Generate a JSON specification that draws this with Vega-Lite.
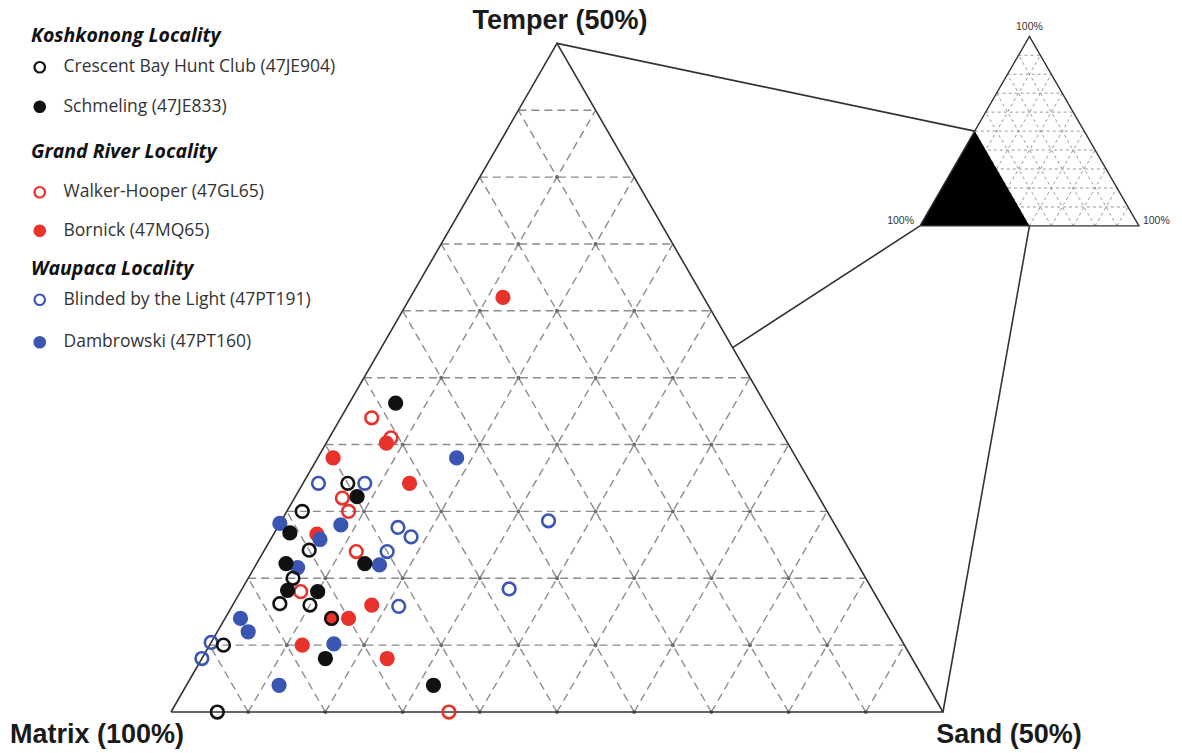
{
  "$schema": "https://vega.github.io/schema/vega-lite/v6.json",
  "width": 1182,
  "height": 753,
  "padding": 0,
  "autosize": {"type": "none"},
  "background": "white",
  "config": {"view": {"stroke": null}, "font": "Liberation Sans"},
  "datasets": {
    "points": [
      {"locality": "K", "site": "Crescent Bay Hunt Club (47JE904)", "temper": 0, "sand": 3, "matrix": 97},
      {"locality": "K", "site": "Crescent Bay Hunt Club (47JE904)", "temper": 5, "sand": 0.9, "matrix": 94.1},
      {"locality": "K", "site": "Crescent Bay Hunt Club (47JE904)", "temper": 8.1, "sand": 3, "matrix": 88.9},
      {"locality": "K", "site": "Crescent Bay Hunt Club (47JE904)", "temper": 8, "sand": 5, "matrix": 87},
      {"locality": "K", "site": "Crescent Bay Hunt Club (47JE904)", "temper": 10, "sand": 2.9, "matrix": 87.1},
      {"locality": "K", "site": "Crescent Bay Hunt Club (47JE904)", "temper": 12.1, "sand": 2.9, "matrix": 85},
      {"locality": "K", "site": "Crescent Bay Hunt Club (47JE904)", "temper": 15, "sand": 1, "matrix": 84},
      {"locality": "K", "site": "Crescent Bay Hunt Club (47JE904)", "temper": 17.1, "sand": 2.9, "matrix": 80},
      {"locality": "K", "site": "Crescent Bay Hunt Club (47JE904)", "temper": 7, "sand": 6.9, "matrix": 86.1},
      {"locality": "K", "site": "Schmeling (47JE833)", "temper": 23.1, "sand": 3, "matrix": 73.9},
      {"locality": "K", "site": "Schmeling (47JE833)", "temper": 16.1, "sand": 4, "matrix": 79.9},
      {"locality": "K", "site": "Schmeling (47JE833)", "temper": 13.4, "sand": 1, "matrix": 85.6},
      {"locality": "K", "site": "Schmeling (47JE833)", "temper": 11.1, "sand": 1.9, "matrix": 87},
      {"locality": "K", "site": "Schmeling (47JE833)", "temper": 9.1, "sand": 3, "matrix": 87.9},
      {"locality": "K", "site": "Schmeling (47JE833)", "temper": 9, "sand": 5, "matrix": 86},
      {"locality": "K", "site": "Schmeling (47JE833)", "temper": 11.1, "sand": 7, "matrix": 81.9},
      {"locality": "K", "site": "Schmeling (47JE833)", "temper": 4, "sand": 8, "matrix": 88},
      {"locality": "K", "site": "Schmeling (47JE833)", "temper": 2, "sand": 16, "matrix": 82},
      {"locality": "G", "site": "Walker-Hooper (47GL65)", "temper": 22, "sand": 2, "matrix": 76},
      {"locality": "G", "site": "Walker-Hooper (47GL65)", "temper": 20.5, "sand": 4, "matrix": 75.5},
      {"locality": "G", "site": "Walker-Hooper (47GL65)", "temper": 16, "sand": 3.1, "matrix": 80.9},
      {"locality": "G", "site": "Walker-Hooper (47GL65)", "temper": 15, "sand": 4, "matrix": 81},
      {"locality": "G", "site": "Walker-Hooper (47GL65)", "temper": 12, "sand": 6, "matrix": 82},
      {"locality": "G", "site": "Walker-Hooper (47GL65)", "temper": 9, "sand": 3.9, "matrix": 87.1},
      {"locality": "G", "site": "Walker-Hooper (47GL65)", "temper": 0, "sand": 18, "matrix": 82},
      {"locality": "G", "site": "Bornick (47MQ65)", "temper": 31, "sand": 6, "matrix": 63},
      {"locality": "G", "site": "Bornick (47MQ65)", "temper": 20.1, "sand": 3.9, "matrix": 76},
      {"locality": "G", "site": "Bornick (47MQ65)", "temper": 19, "sand": 1, "matrix": 80},
      {"locality": "G", "site": "Bornick (47MQ65)", "temper": 17.1, "sand": 6.9, "matrix": 76},
      {"locality": "G", "site": "Bornick (47MQ65)", "temper": 13.3, "sand": 2.8, "matrix": 83.9},
      {"locality": "G", "site": "Bornick (47MQ65)", "temper": 7, "sand": 8, "matrix": 85},
      {"locality": "G", "site": "Bornick (47MQ65)", "temper": 8, "sand": 9, "matrix": 83},
      {"locality": "G", "site": "Bornick (47MQ65)", "temper": 5, "sand": 6, "matrix": 89},
      {"locality": "G", "site": "Bornick (47MQ65)", "temper": 4, "sand": 12, "matrix": 84},
      {"locality": "G", "site": "Bornick (47MQ65)", "temper": 7, "sand": 6.9, "matrix": 86.1},
      {"locality": "W", "site": "Blinded by the Light (47PT191)", "temper": 17.1, "sand": 1, "matrix": 81.9},
      {"locality": "W", "site": "Blinded by the Light (47PT191)", "temper": 17.1, "sand": 4, "matrix": 78.9},
      {"locality": "W", "site": "Blinded by the Light (47PT191)", "temper": 13.8, "sand": 7.8, "matrix": 78.4},
      {"locality": "W", "site": "Blinded by the Light (47PT191)", "temper": 13.1, "sand": 9, "matrix": 77.9},
      {"locality": "W", "site": "Blinded by the Light (47PT191)", "temper": 12, "sand": 8, "matrix": 80},
      {"locality": "W", "site": "Blinded by the Light (47PT191)", "temper": 7.9, "sand": 10.8, "matrix": 81.3},
      {"locality": "W", "site": "Blinded by the Light (47PT191)", "temper": 14.3, "sand": 17.3, "matrix": 68.4},
      {"locality": "W", "site": "Blinded by the Light (47PT191)", "temper": 9.2, "sand": 17.3, "matrix": 73.5},
      {"locality": "W", "site": "Blinded by the Light (47PT191)", "temper": 5.2, "sand": 0, "matrix": 94.8},
      {"locality": "W", "site": "Blinded by the Light (47PT191)", "temper": 4, "sand": 0, "matrix": 96},
      {"locality": "W", "site": "Dambrowski (47PT160)", "temper": 19, "sand": 9, "matrix": 72},
      {"locality": "W", "site": "Dambrowski (47PT160)", "temper": 14.1, "sand": 0, "matrix": 85.9},
      {"locality": "W", "site": "Dambrowski (47PT160)", "temper": 12.9, "sand": 3.2, "matrix": 83.9},
      {"locality": "W", "site": "Dambrowski (47PT160)", "temper": 14, "sand": 4, "matrix": 82},
      {"locality": "W", "site": "Dambrowski (47PT160)", "temper": 10.8, "sand": 2.8, "matrix": 86.4},
      {"locality": "W", "site": "Dambrowski (47PT160)", "temper": 11, "sand": 8, "matrix": 81},
      {"locality": "W", "site": "Dambrowski (47PT160)", "temper": 7, "sand": 1, "matrix": 92},
      {"locality": "W", "site": "Dambrowski (47PT160)", "temper": 6, "sand": 2, "matrix": 92},
      {"locality": "W", "site": "Dambrowski (47PT160)", "temper": 2, "sand": 6, "matrix": 92},
      {"locality": "W", "site": "Dambrowski (47PT160)", "temper": 5.1, "sand": 8, "matrix": 86.9}
    ],
    "grid": [
      {"t1": 5, "s1": 0, "t2": 5, "s2": 45}, {"t1": 10, "s1": 0, "t2": 10, "s2": 40}, {"t1": 15, "s1": 0, "t2": 15, "s2": 35},
      {"t1": 20, "s1": 0, "t2": 20, "s2": 30}, {"t1": 25, "s1": 0, "t2": 25, "s2": 25}, {"t1": 30, "s1": 0, "t2": 30, "s2": 20},
      {"t1": 35, "s1": 0, "t2": 35, "s2": 15}, {"t1": 40, "s1": 0, "t2": 40, "s2": 10}, {"t1": 45, "s1": 0, "t2": 45, "s2": 5},
      {"t1": 0, "s1": 5, "t2": 45, "s2": 5}, {"t1": 0, "s1": 10, "t2": 40, "s2": 10}, {"t1": 0, "s1": 15, "t2": 35, "s2": 15},
      {"t1": 0, "s1": 20, "t2": 30, "s2": 20}, {"t1": 0, "s1": 25, "t2": 25, "s2": 25}, {"t1": 0, "s1": 30, "t2": 20, "s2": 30},
      {"t1": 0, "s1": 35, "t2": 15, "s2": 35}, {"t1": 0, "s1": 40, "t2": 10, "s2": 40}, {"t1": 0, "s1": 45, "t2": 5, "s2": 45},
      {"t1": 0, "s1": 5, "t2": 5, "s2": 0}, {"t1": 0, "s1": 10, "t2": 10, "s2": 0}, {"t1": 0, "s1": 15, "t2": 15, "s2": 0},
      {"t1": 0, "s1": 20, "t2": 20, "s2": 0}, {"t1": 0, "s1": 25, "t2": 25, "s2": 0}, {"t1": 0, "s1": 30, "t2": 30, "s2": 0},
      {"t1": 0, "s1": 35, "t2": 35, "s2": 0}, {"t1": 0, "s1": 40, "t2": 40, "s2": 0}, {"t1": 0, "s1": 45, "t2": 45, "s2": 0}
    ],
    "nodes": [
      {"t": 0, "s": 5}, {"t": 0, "s": 10}, {"t": 0, "s": 15}, {"t": 0, "s": 20}, {"t": 0, "s": 25}, {"t": 0, "s": 30}, {"t": 0, "s": 35}, {"t": 0, "s": 40}, {"t": 0, "s": 45},
      {"t": 5, "s": 5}, {"t": 5, "s": 10}, {"t": 5, "s": 15}, {"t": 5, "s": 20}, {"t": 5, "s": 25}, {"t": 5, "s": 30}, {"t": 5, "s": 35}, {"t": 5, "s": 40},
      {"t": 10, "s": 5}, {"t": 10, "s": 10}, {"t": 10, "s": 15}, {"t": 10, "s": 20}, {"t": 10, "s": 25}, {"t": 10, "s": 30}, {"t": 10, "s": 35},
      {"t": 15, "s": 5}, {"t": 15, "s": 10}, {"t": 15, "s": 15}, {"t": 15, "s": 20}, {"t": 15, "s": 25}, {"t": 15, "s": 30},
      {"t": 20, "s": 5}, {"t": 20, "s": 10}, {"t": 20, "s": 15}, {"t": 20, "s": 20}, {"t": 20, "s": 25},
      {"t": 25, "s": 5}, {"t": 25, "s": 10}, {"t": 25, "s": 15}, {"t": 25, "s": 20},
      {"t": 30, "s": 5}, {"t": 30, "s": 10}, {"t": 30, "s": 15},
      {"t": 35, "s": 5}, {"t": 35, "s": 10},
      {"t": 40, "s": 5}
    ],
    "tri": [
      {"t": 0, "s": 0, "k": 0}, {"t": 0, "s": 50, "k": 1}, {"t": 50, "s": 0, "k": 2}, {"t": 0, "s": 0, "k": 3}
    ],
    "itri": [
      {"t": 0, "s": 0, "k": 0}, {"t": 0, "s": 100, "k": 1}, {"t": 100, "s": 0, "k": 2}, {"t": 0, "s": 0, "k": 3}
    ],
    "iblack": [
      {"t": 0, "s": 0}, {"t": 50, "s": 0}, {"t": 0, "s": 50}
    ],
    "igrid": [
      {"t1": 10, "s1": 0, "t2": 10, "s2": 90}, {"t1": 20, "s1": 0, "t2": 20, "s2": 80}, {"t1": 30, "s1": 0, "t2": 30, "s2": 70},
      {"t1": 40, "s1": 0, "t2": 40, "s2": 60}, {"t1": 50, "s1": 0, "t2": 50, "s2": 50}, {"t1": 60, "s1": 0, "t2": 60, "s2": 40},
      {"t1": 70, "s1": 0, "t2": 70, "s2": 30}, {"t1": 80, "s1": 0, "t2": 80, "s2": 20}, {"t1": 90, "s1": 0, "t2": 90, "s2": 10},
      {"t1": 0, "s1": 10, "t2": 90, "s2": 10}, {"t1": 0, "s1": 20, "t2": 80, "s2": 20}, {"t1": 0, "s1": 30, "t2": 70, "s2": 30},
      {"t1": 0, "s1": 40, "t2": 60, "s2": 40}, {"t1": 0, "s1": 50, "t2": 50, "s2": 50}, {"t1": 0, "s1": 60, "t2": 40, "s2": 60},
      {"t1": 0, "s1": 70, "t2": 30, "s2": 70}, {"t1": 0, "s1": 80, "t2": 20, "s2": 80}, {"t1": 0, "s1": 90, "t2": 10, "s2": 90},
      {"t1": 0, "s1": 10, "t2": 10, "s2": 0}, {"t1": 0, "s1": 20, "t2": 20, "s2": 0}, {"t1": 0, "s1": 30, "t2": 30, "s2": 0},
      {"t1": 0, "s1": 40, "t2": 40, "s2": 0}, {"t1": 0, "s1": 50, "t2": 50, "s2": 0}, {"t1": 0, "s1": 60, "t2": 60, "s2": 0},
      {"t1": 0, "s1": 70, "t2": 70, "s2": 0}, {"t1": 0, "s1": 80, "t2": 80, "s2": 0}, {"t1": 0, "s1": 90, "t2": 90, "s2": 0}
    ],
    "links": [
      {"t1": 50, "s1": 0, "t2": 50, "s2": 0},
      {"t1": 27.25, "s1": 22.75, "t2": 0, "s2": 0},
      {"t1": 0, "s1": 50, "t2": 0, "s2": 50}
    ],
    "labels": [
      {"label": "Temper (50%)", "t": 50, "s": 0},
      {"label": "Matrix (100%)", "t": 0, "s": 0},
      {"label": "Sand (50%)", "t": 0, "s": 50}
    ],
    "ilabels": [
      {"label": "100%", "t": 100, "s": 0, "corner": "top"},
      {"label": "100%", "t": 0, "s": 0, "corner": "left"},
      {"label": "100%", "t": 0, "s": 100, "corner": "right"}
    ]
  },
  "encoding": {
    "x": {"field": "X", "type": "quantitative", "scale": {"domain": [-11.075, 65.48], "nice": false, "zero": false}, "axis": null},
    "y": {"field": "Y", "type": "quantitative", "scale": {"domain": [-2.655, 46.11], "nice": false, "zero": false}, "axis": null}
  },
  "layer": [
    {
      "data": {"name": "grid"},
      "transform": [
        {"calculate": "datum.s1 + datum.t1 / 2", "as": "X"},
        {"calculate": "datum.t1 * 0.8660254", "as": "Y"},
        {"calculate": "datum.s2 + datum.t2 / 2", "as": "X2"},
        {"calculate": "datum.t2 * 0.8660254", "as": "Y2"}
      ],
      "mark": {"type": "rule", "stroke": "#8c8c8c", "strokeWidth": 1.4, "strokeDash": [8, 5]},
      "encoding": {"x2": {"field": "X2"}, "y2": {"field": "Y2"}}
    },
    {
      "data": {"name": "nodes"},
      "transform": [
        {"calculate": "datum.s + datum.t / 2", "as": "X"},
        {"calculate": "datum.t * 0.8660254", "as": "Y"}
      ],
      "mark": {"type": "circle", "size": 16, "color": "#6e6e6e", "opacity": 1}
    },
    {
      "data": {"name": "tri"},
      "transform": [
        {"calculate": "datum.s + datum.t / 2", "as": "X"},
        {"calculate": "datum.t * 0.8660254", "as": "Y"}
      ],
      "mark": {"type": "line", "stroke": "#333333", "strokeWidth": 1.6, "strokeJoin": "miter"},
      "encoding": {"order": {"field": "k", "type": "quantitative"}}
    },
    {
      "data": {"name": "links"},
      "transform": [
        {"calculate": "datum.s1 + datum.t1 / 2", "as": "X"},
        {"calculate": "datum.t1 * 0.8660254", "as": "Y"},
        {"calculate": "48.51 + 0.1418 * (datum.s2 + datum.t2 / 2)", "as": "X2"},
        {"calculate": "31.48 + 0.1228 * datum.t2", "as": "Y2"}
      ],
      "mark": {"type": "rule", "stroke": "#333333", "strokeWidth": 1.6},
      "encoding": {"x2": {"field": "X2"}, "y2": {"field": "Y2"}}
    },
    {
      "data": {"name": "igrid"},
      "transform": [
        {"calculate": "48.51 + 0.1418 * (datum.s1 + datum.t1 / 2)", "as": "X"},
        {"calculate": "31.48 + 0.1228 * datum.t1", "as": "Y"},
        {"calculate": "48.51 + 0.1418 * (datum.s2 + datum.t2 / 2)", "as": "X2"},
        {"calculate": "31.48 + 0.1228 * datum.t2", "as": "Y2"}
      ],
      "mark": {"type": "rule", "stroke": "#8c8c8c", "strokeWidth": 0.9, "strokeDash": [3, 3]},
      "encoding": {"x2": {"field": "X2"}, "y2": {"field": "Y2"}}
    },
    {
      "data": {"name": "iblack"},
      "transform": [
        {"calculate": "48.51 + 0.1418 * (datum.s + datum.t / 2)", "as": "X"},
        {"calculate": "31.48 + 0.1228 * datum.t", "as": "Y"},
        {"calculate": "31.48", "as": "Y2"}
      ],
      "mark": {"type": "area", "color": "#000000", "opacity": 1},
      "encoding": {"y2": {"field": "Y2"}}
    },
    {
      "data": {"name": "itri"},
      "transform": [
        {"calculate": "48.51 + 0.1418 * (datum.s + datum.t / 2)", "as": "X"},
        {"calculate": "31.48 + 0.1228 * datum.t", "as": "Y"}
      ],
      "mark": {"type": "line", "stroke": "#333333", "strokeWidth": 1.4, "strokeJoin": "miter"},
      "encoding": {"order": {"field": "k", "type": "quantitative"}}
    },
    {
      "data": {"name": "labels"},
      "transform": [
        {"filter": "datum.label === 'Temper (50%)'"},
        {"calculate": "datum.s + datum.t / 2", "as": "X"},
        {"calculate": "datum.t * 0.8660254", "as": "Y"}
      ],
      "mark": {"type": "text", "font": "Liberation Sans", "fontWeight": "bold", "fontSize": 27, "align": "center", "baseline": "middle", "dx": 3, "dy": -22, "color": "#1a1a1a"},
      "encoding": {"text": {"field": "label"}}
    },
    {
      "data": {"name": "labels"},
      "transform": [
        {"filter": "datum.label === 'Matrix (100%)'"},
        {"calculate": "datum.s + datum.t / 2", "as": "X"},
        {"calculate": "datum.t * 0.8660254", "as": "Y"}
      ],
      "mark": {"type": "text", "font": "Liberation Sans", "fontWeight": "bold", "fontSize": 27, "align": "center", "baseline": "middle", "dx": -74, "dy": 23, "color": "#1a1a1a"},
      "encoding": {"text": {"field": "label"}}
    },
    {
      "data": {"name": "labels"},
      "transform": [
        {"filter": "datum.label === 'Sand (50%)'"},
        {"calculate": "datum.s + datum.t / 2", "as": "X"},
        {"calculate": "datum.t * 0.8660254", "as": "Y"}
      ],
      "mark": {"type": "text", "font": "Liberation Sans", "fontWeight": "bold", "fontSize": 27, "align": "center", "baseline": "middle", "dx": 66, "dy": 23, "color": "#1a1a1a"},
      "encoding": {"text": {"field": "label"}}
    },
    {
      "data": {"name": "ilabels"},
      "transform": [
        {"filter": "datum.corner === 'top'"},
        {"calculate": "48.51 + 0.1418 * (datum.s + datum.t / 2)", "as": "X"},
        {"calculate": "31.48 + 0.1228 * datum.t", "as": "Y"}
      ],
      "mark": {"type": "text", "font": "Liberation Sans", "fontSize": 10.5, "align": "center", "baseline": "middle", "dy": -9, "color": "#333333"},
      "encoding": {"text": {"field": "label"}}
    },
    {
      "data": {"name": "ilabels"},
      "transform": [
        {"filter": "datum.corner === 'left'"},
        {"calculate": "48.51 + 0.1418 * (datum.s + datum.t / 2)", "as": "X"},
        {"calculate": "31.48 + 0.1228 * datum.t", "as": "Y"}
      ],
      "mark": {"type": "text", "font": "Liberation Sans", "fontSize": 10.5, "align": "right", "baseline": "middle", "dx": -6, "dy": -5, "color": "#333333"},
      "encoding": {"text": {"field": "label"}}
    },
    {
      "data": {"name": "ilabels"},
      "transform": [
        {"filter": "datum.corner === 'right'"},
        {"calculate": "48.51 + 0.1418 * (datum.s + datum.t / 2)", "as": "X"},
        {"calculate": "31.48 + 0.1228 * datum.t", "as": "Y"}
      ],
      "mark": {"type": "text", "font": "Liberation Sans", "fontSize": 10.5, "align": "left", "baseline": "middle", "dx": 4, "dy": -5, "color": "#333333"},
      "encoding": {"text": {"field": "label"}}
    },
    {
      "data": {"name": "points"},
      "transform": [
        {"filter": "datum.locality === 'G'"},
        {"calculate": "datum.sand + datum.temper / 2", "as": "X"},
        {"calculate": "datum.temper * 0.8660254", "as": "Y"}
      ],
      "mark": {"type": "point", "shape": "circle", "filled": true, "size": 160, "stroke": "#e8322b", "strokeWidth": 2.6, "opacity": 1},
      "encoding": {
        "fill": {
          "field": "site", "type": "nominal",
          "scale": {"domain": ["Walker-Hooper (47GL65)", "Bornick (47MQ65)"], "range": ["transparent", "#e8322b"]},
          "legend": {"title": "Grand River Locality", "orient": "none", "legendX": 31, "legendY": 143, "titleFont": "Open Sans", "titleFontSize": 19.5, "titleFontWeight": "bold", "titleFontStyle": "italic", "titleColor": "#111111", "titleLimit": 400, "titlePadding": 21, "labelFont": "Open Sans", "labelFontSize": 17.5, "labelColor": "#333333", "labelOffset": 15, "labelLimit": 400, "symbolType": "circle", "symbolSize": 110, "symbolStrokeWidth": 2.2, "symbolStrokeColor": "#e8322b", "rowPadding": 18.5}
        }
      }
    },
    {
      "data": {"name": "points"},
      "transform": [
        {"filter": "datum.locality === 'W'"},
        {"calculate": "datum.sand + datum.temper / 2", "as": "X"},
        {"calculate": "datum.temper * 0.8660254", "as": "Y"}
      ],
      "mark": {"type": "point", "shape": "circle", "filled": true, "size": 160, "stroke": "#3b56b2", "strokeWidth": 2.6, "opacity": 1},
      "encoding": {
        "fill": {
          "field": "site", "type": "nominal",
          "scale": {"domain": ["Blinded by the Light (47PT191)", "Dambrowski (47PT160)"], "range": ["transparent", "#3b56b2"]},
          "legend": {"title": "Waupaca Locality", "orient": "none", "legendX": 31, "legendY": 259.5, "titleFont": "Open Sans", "titleFontSize": 19.5, "titleFontWeight": "bold", "titleFontStyle": "italic", "titleColor": "#111111", "titleLimit": 400, "titlePadding": 12, "labelFont": "Open Sans", "labelFontSize": 17.5, "labelColor": "#333333", "labelOffset": 15, "labelLimit": 400, "symbolType": "circle", "symbolSize": 110, "symbolStrokeWidth": 2.2, "symbolStrokeColor": "#3b56b2", "rowPadding": 22.5}
        }
      }
    },
    {
      "data": {"name": "points"},
      "transform": [
        {"filter": "datum.locality === 'K'"},
        {"calculate": "datum.sand + datum.temper / 2", "as": "X"},
        {"calculate": "datum.temper * 0.8660254", "as": "Y"}
      ],
      "mark": {"type": "point", "shape": "circle", "filled": true, "size": 160, "stroke": "#111111", "strokeWidth": 2.6, "opacity": 1},
      "encoding": {
        "fill": {
          "field": "site", "type": "nominal",
          "scale": {"domain": ["Crescent Bay Hunt Club (47JE904)", "Schmeling (47JE833)"], "range": ["transparent", "#111111"]},
          "legend": {"title": "Koshkonong Locality", "orient": "none", "legendX": 31, "legendY": 27, "titleFont": "Open Sans", "titleFontSize": 19.5, "titleFontWeight": "bold", "titleFontStyle": "italic", "titleColor": "#111111", "titleLimit": 400, "titlePadding": 12, "labelFont": "Open Sans", "labelFontSize": 17.5, "labelColor": "#333333", "labelOffset": 15, "labelLimit": 400, "symbolType": "circle", "symbolSize": 110, "symbolStrokeWidth": 2.2, "symbolStrokeColor": "#111111", "rowPadding": 19.5}
        }
      }
    }
  ],
  "resolve": {"scale": {"fill": "independent"}}
}
